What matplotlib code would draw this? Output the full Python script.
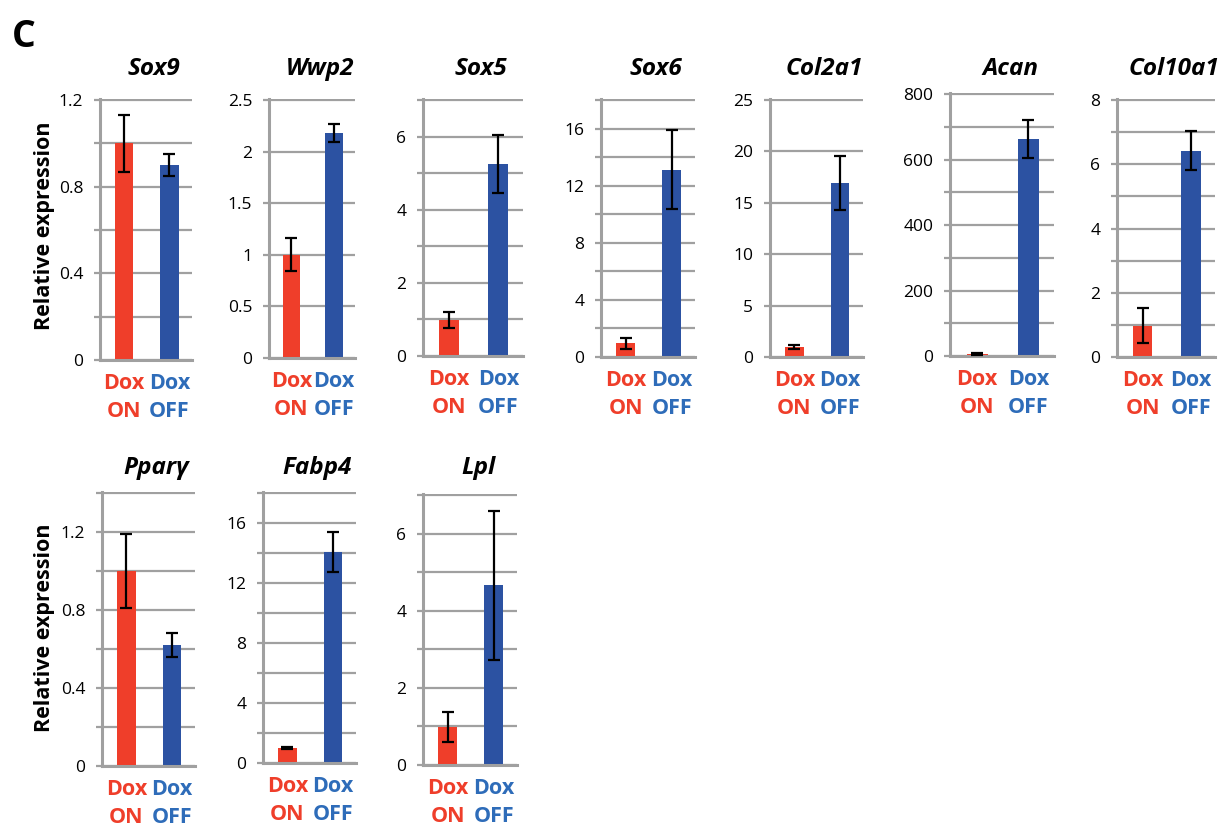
import matplotlib
matplotlib.use('Agg')
import matplotlib.pyplot as plt
from matplotlib.ticker import MultipleLocator, FuncFormatter, NullFormatter

plt.rcParams['font.family'] = ['Open Sans', 'DejaVu Sans']

# data (relative expression, mean +/- error)
genes = ['Sox9', 'Wwp2', 'Sox5', 'Sox6', 'Col2a1', 'Acan', 'Col10a1',
         'Ppar\u03b3', 'Fabp4', 'Lpl']
dox_on = [1.00, 1.00, 0.98, 0.95, 0.94, 6.0, 0.98, 1.00, 1.02, 0.99]
dox_on_err = [0.13, 0.16, 0.22, 0.37, 0.20, 2.0, 0.55, 0.19, 0.07, 0.39]
dox_off = [0.90, 2.18, 5.26, 13.13, 16.96, 663.0, 6.42, 0.62, 14.08, 4.66]
dox_off_err = [0.05, 0.085, 0.79, 2.76, 2.64, 59.0, 0.61, 0.063, 1.32, 1.93]
group_lines = [('Dox', 'ON'), ('Dox', 'OFF')]

y_max = [1.2, 2.5, 7, 18, 25, 800, 8, 1.4, 18, 7]
y_label_step = [0.4, 0.5, 2, 4, 5, 200, 2, 0.4, 4, 2]
y_grid_step = [0.2, 0.5, 1, 2, 5, 100, 1, 0.2, 2, 1]
ylabel = 'Relative expression'

# panel frames in pixels: left, right, top, bottom
frames = [(100, 192, 99, 360), (269, 355, 99, 358), (423, 523, 99, 356),
          (601, 695, 99, 357), (770, 863, 99, 357), (950, 1054, 93, 356),
          (1117, 1215, 99, 357), (102, 195, 492, 766), (263, 356, 492, 763),
          (423, 517, 494, 765)]
title_base = [75] * 7 + [474] * 3

W, H = 1231, 827
RED = '#EF3E2A'
BLUE = '#2C52A2'
BLUE_TXT = '#2E6CB9'
GRID = '#A0A0A0'

fig = plt.figure(figsize=(W / 100, H / 100), dpi=100)

for i, g in enumerate(genes):
    l, r, t, b = frames[i]
    ax = fig.add_axes([l / W, 1 - b / H, (r - l) / W, (b - t) / H])
    ax.set_axisbelow(True)
    x = [0, 1]
    ax.bar(x, [dox_on[i], dox_off[i]], width=0.41, color=[RED, BLUE], zorder=2)
    ax.errorbar(x, [dox_on[i], dox_off[i]], yerr=[dox_on_err[i], dox_off_err[i]],
                fmt='none', ecolor='black', elinewidth=1.6, capsize=4,
                capthick=1.6, zorder=3)
    ax.set_xlim(-0.53, 1.5)
    ax.set_ylim(0, y_max[i] * 1.004)
    ax.yaxis.set_major_locator(MultipleLocator(y_label_step[i]))
    ax.yaxis.set_minor_locator(MultipleLocator(y_grid_step[i]))
    ax.yaxis.set_major_formatter(FuncFormatter(lambda v, p: f'{v:g}'))
    ax.yaxis.set_minor_formatter(NullFormatter())
    ax.grid(True, which='both', axis='y', color=GRID, lw=1.6)
    ax.tick_params(axis='y', which='both', length=4, width=1.6, color=GRID,
                   direction='out', pad=8, labelsize=12.5)
    ax.set_xticks([])
    for s in ['top', 'right']:
        ax.spines[s].set_visible(False)
    for s in ['left', 'bottom']:
        ax.spines[s].set_color(GRID)
        ax.spines[s].set_linewidth(2.2)

    for k, (line1, line2) in enumerate(group_lines):
        c = RED if k == 0 else BLUE_TXT
        for txt, off in [(line1, -29), (line2, -57)]:
            ax.annotate(txt, xy=(k, 0), xycoords=('data', 'axes fraction'),
                        xytext=(0, off), textcoords='offset pixels',
                        ha='center', va='baseline', color=c,
                        fontsize=15.5, fontweight='bold')

    fig.text(((l + r) / 2 + 8) / W, 1 - title_base[i] / H, g, ha='center',
             va='baseline', fontsize=17.5, fontweight='bold', style='italic')

fig.text(45 / W, 1 - 226 / H, ylabel, rotation=90, ha='center', va='center',
         fontsize=15.5, fontweight='bold')
fig.text(45 / W, 1 - 628 / H, ylabel, rotation=90, ha='center', va='center',
         fontsize=15.5, fontweight='bold')
fig.text(12 / W, 1 - 47 / H, 'C', ha='left', va='baseline', fontsize=27,
         fontweight='bold')

fig.savefig('out.png', dpi=100)
